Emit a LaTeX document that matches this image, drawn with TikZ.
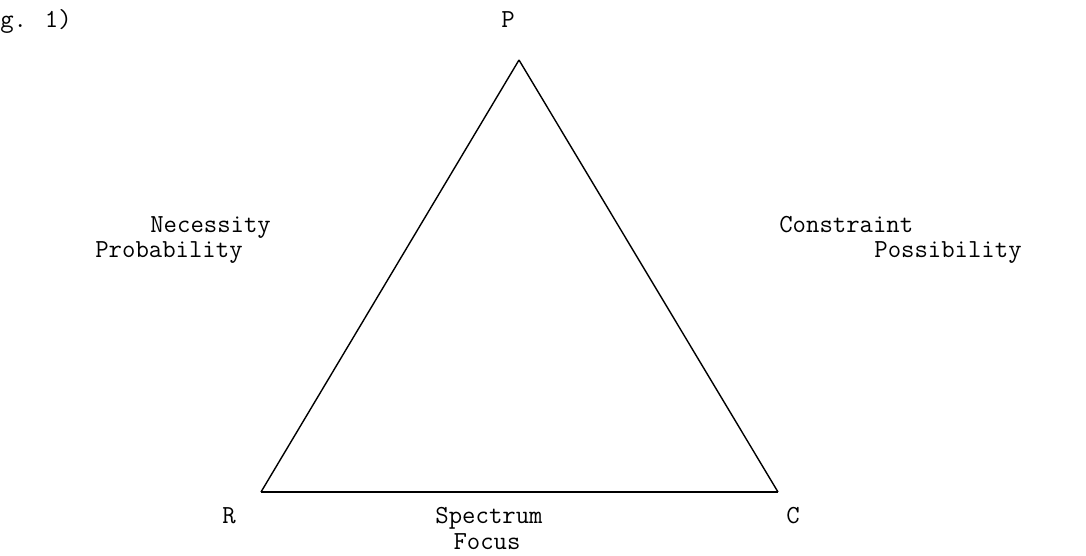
\documentclass[tikz,border=0pt]{standalone}
\usepackage{tikz}
\usetikzlibrary{positioning}

\begin{document}
\begin{tikzpicture}[
  x=0.02cm, y=-0.02cm,
  font=\ttfamily\fontsize{14.8}{17}\selectfont,
  lbl/.style={inner sep=0pt, anchor=base west},
  ctr/.style={inner sep=0pt, anchor=base},
  side/.style={line width=0.8pt, line join=round},
]
  \useasboundingbox (0,0) rectangle (1086,555);

  % Figure caption (cut off at the left edge)
  \node[lbl] (cap) at (0,27) {g. 1)};

  % Triangle corners
  \coordinate (p) at (519,60);
  \coordinate (r) at (261,492);
  \coordinate (c) at (778,492);

  % Corner labels
  \node[ctr] (plbl) at (508,27)  {P};
  \node[ctr] (rlbl) at (229,523) {R};
  \node[ctr] (clbl) at (793,523) {C};

  % Sides
  \draw[side] (p) -- (r);
  \draw[side] (p) -- (c);
  \draw[side, line width=0.6pt] (r) -- (c);

  % Left side labels
  \node[lbl] (nec)  at (150,232) {Necessity};
  \node[lbl] (prob) at (95,257)  {Probability};

  % Right side labels
  \node[lbl] (cons) at (779,232) {Constraint};
  \node[lbl] (poss) at (874,257) {Possibility};

  % Bottom labels
  \node[ctr] (spec) at (489,523) {Spectrum};
  \node[ctr] (foc)  at (487,549) {Focus};
\end{tikzpicture}
\end{document}
